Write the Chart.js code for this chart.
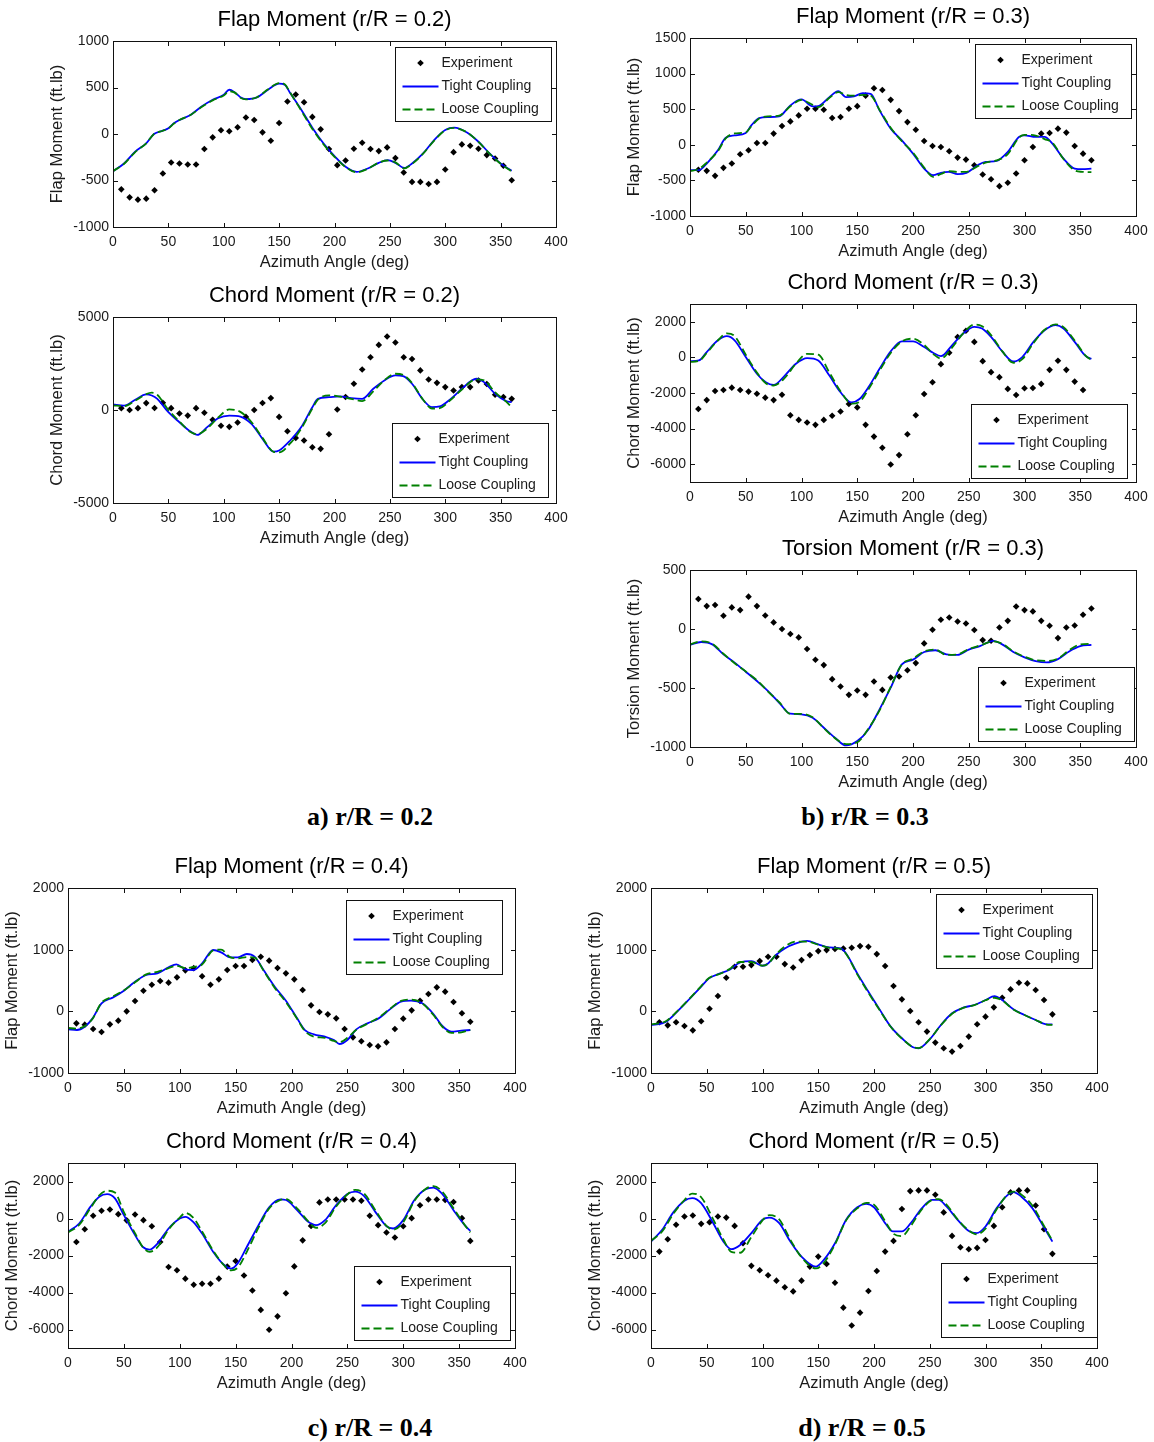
<!DOCTYPE html>
<html><head><meta charset="utf-8">
<script src="https://cdn.jsdelivr.net/npm/chart.js@4.4.1/dist/chart.umd.min.js"></script>
<style>
html,body{margin:0;padding:0;background:#fff;}
body{width:1154px;height:1442px;position:relative;overflow:hidden;}
canvas{position:absolute;}
.cap{position:absolute;width:300px;margin-left:-150px;text-align:center;font:bold 26px 'Liberation Serif','Times New Roman',serif;line-height:26px;color:#000;}
</style></head><body>
<script>
// ---------------- DATA ----------------
const seriesNames = ['Experiment', 'Tight Coupling', 'Loose Coupling'];
const xTicks = [0, 50, 100, 150, 200, 250, 300, 350, 400];
const yTicksFlap02 = [-1000, -500, 0, 500, 1000];
const yTicksChord02 = [-5000, 0, 5000];
const yTicksFlap03 = [-1000, -500, 0, 500, 1000, 1500];
const yTicksChord = [-6000, -4000, -2000, 0, 2000];
const yTicksTorsion03 = [-1000, -500, 0, 500];
const yTicksFlap45 = [-1000, 0, 1000, 2000];

const expAngles = [7.5,15,22.5,30,37.5,45,52.5,60,67.5,75,82.5,90,97.5,105,112.5,120,127.5,135,142.5,150,157.5,165,172.5,180,187.5,195,202.5,210,217.5,225,232.5,240,247.5,255,262.5,270,277.5,285,292.5,300,307.5,315,322.5,330,337.5,345,352.5,360];

// Flap r/R = 0.2
const flap02Exp = [-595,-681,-706,-695,-605,-425,-306,-317,-328,-328,-162,-36,40,29,72,177,151,18,-72,119,350,425,342,184,50,-162,-335,-285,-159,-94,-162,-184,-144,-259,-414,-515,-515,-537,-515,-382,-195,-112,-126,-159,-227,-263,-342,-497];
const flap02Ang = [0,10,20,30,37,45,50,55,60,70,80,90,100,105,110,115,120,130,140,150,155,160,170,180,190,200,210,220,230,240,248,255,263,270,280,290,300,308,320,330,340,350,360];
const flap02Tight = [-400,-317,-191,-100,0,36,61,115,151,205,295,368,422,476,447,396,375,393,476,541,530,440,260,68,-100,-238,-353,-407,-371,-310,-281,-310,-364,-317,-209,-65,43,68,14,-83,-209,-317,-396];
const flap02Loose = [-400,-320,-195,-100,0,35,60,112,150,205,290,362,415,460,445,390,372,395,480,548,535,445,250,55,-110,-245,-355,-412,-375,-308,-285,-305,-370,-322,-212,-70,40,65,15,-85,-212,-320,-405];

// Chord r/R = 0.2
const chord02Exp = [100,0,100,370,110,390,100,-190,-300,100,-150,-530,-850,-905,-670,-370,0,380,640,-370,-1140,-1500,-1640,-2000,-2090,-1300,30,700,1410,2180,2840,3500,3950,3630,2840,2740,2130,1640,1460,1230,1050,1230,1230,1590,1400,820,700,600];
const chord02Ang = [0,10,20,30,35,40,50,60,70,76,85,95,105,115,125,135,145,150,160,170,180,185,195,205,215,225,235,245,255,262,270,280,288,295,305,315,328,335,345,355,360];
const chord02Tight = [300,240,550,840,780,600,-120,-660,-1160,-1340,-920,-440,-300,-350,-750,-1550,-2240,-2180,-1640,-920,150,600,690,730,640,600,1140,1590,1860,1820,1410,550,150,190,600,1140,1680,1500,870,480,420];
const chord02Loose = [250,200,500,850,930,820,0,-620,-1180,-1300,-1000,-400,30,-100,-650,-1500,-2250,-2280,-1800,-1000,80,560,790,720,600,480,1000,1600,1950,1880,1450,550,80,100,550,1100,1650,1600,950,450,150];

// Flap r/R = 0.3
const flap03Exp = [-350,-366,-436,-324,-263,-133,-77,26,26,157,264,329,413,506,506,492,376,390,506,543,690,794,770,631,473,319,212,54,-16,-30,-91,-180,-208,-287,-418,-483,-581,-534,-403,-217,-30,157,166,227,171,-16,-124,-217];
const flap03Ang = [0,8,15,25,32,40,50,55,62,70,80,90,100,110,115,125,133,140,147,155,162,170,180,190,200,210,218,225,232,240,248,258,265,275,285,295,300,310,318,325,335,345,352,360];
const flap03Tight = [-357,-357,-263,-77,100,133,166,273,376,390,399,553,637,539,543,669,753,669,679,725,716,483,227,63,-124,-334,-427,-394,-380,-413,-394,-287,-240,-226,-100,110,133,110,110,17,-194,-334,-343,-334];
const flap03Loose = [-370,-340,-250,-90,90,160,175,260,370,400,410,540,630,560,530,660,740,700,690,700,690,490,240,50,-110,-320,-450,-410,-370,-380,-380,-300,-250,-220,-130,100,140,130,80,30,-200,-360,-380,-385];

// Chord r/R = 0.3
const chord03Exp = [-2900,-2400,-1890,-1830,-1700,-1830,-1920,-2040,-2260,-2400,-2100,-3250,-3510,-3660,-3790,-3510,-3280,-3040,-2620,-2810,-3790,-4450,-5080,-6020,-5490,-4320,-3250,-2060,-1400,-380,260,1150,1500,870,-210,-830,-1110,-1770,-2110,-1730,-1720,-1490,-700,-190,-700,-1360,-1830,null];
const chord03Ang = [0,8,15,25,33,40,50,60,68,75,85,95,105,115,125,135,145,152,160,170,180,190,200,210,218,225,235,245,255,262,270,280,290,298,308,318,328,335,345,355,360];
const chord03Tight = [-210,-170,300,960,1190,960,20,-920,-1400,-1550,-1020,-360,-40,-170,-1020,-1960,-2530,-2340,-1680,-640,340,900,900,580,260,70,680,1340,1720,1620,1150,340,-230,20,870,1530,1810,1620,870,70,-80];
const chord03Loose = [-250,-200,250,950,1350,1200,150,-850,-1450,-1580,-1150,-350,200,150,-850,-1900,-2600,-2500,-1800,-750,250,900,1050,700,200,-60,550,1350,1850,1750,1250,350,-300,-100,800,1550,1850,1700,950,80,-150];

// Torsion r/R = 0.3
const torsion03Exp = [254,194,203,112,183,160,274,194,115,56,0,-43,-71,-170,-261,-306,-425,-487,-558,-521,-558,-445,-516,-411,-402,-350,-289,-122,-6,78,98,64,47,-9,-94,-100,13,69,191,160,149,69,27,-77,13,30,121,174];
const torsion03Ang = [0,10,20,30,40,50,60,70,80,90,100,110,120,130,140,150,160,170,180,190,200,210,220,230,240,250,260,272,280,290,300,310,320,330,340,350,360];
const torsion03Tight = [-135,-110,-130,-215,-285,-362,-441,-526,-625,-718,-723,-752,-837,-922,-987,-950,-851,-681,-497,-299,-260,-195,-180,-215,-220,-175,-145,-100,-130,-195,-240,-272,-283,-255,-190,-145,-135];
const torsion03Loose = [-130,-105,-125,-210,-290,-360,-435,-530,-620,-720,-720,-748,-840,-925,-975,-960,-845,-690,-490,-300,-250,-190,-175,-220,-215,-170,-140,-105,-125,-190,-235,-265,-270,-250,-180,-130,-125];

// Flap r/R = 0.4
const flap04Exp = [-195,-216,-286,-335,-211,-151,0,168,335,432,492,465,551,665,700,568,432,519,670,735,735,832,886,822,703,616,519,346,97,-11,-49,-114,-286,-422,-486,-546,-568,-503,-286,-119,16,170,281,389,319,151,-32,-168];
const flap04Ang = [0,8,15,22,30,40,50,60,70,80,90,97,105,112,120,130,137,145,152,160,167,175,185,195,205,212,220,230,238,243,250,258,268,278,288,298,307,317,327,335,343,352,360];
const flap04Tight = [-292,-303,-249,-114,130,222,335,481,589,616,714,762,681,670,778,995,957,876,876,930,886,670,400,173,-114,-303,-373,-411,-465,-530,-465,-292,-195,-114,32,157,173,130,-43,-238,-330,-314,-303];
const flap04Loose = [-270,-280,-240,-120,140,240,340,470,600,640,700,740,700,720,760,990,1000,880,860,880,870,660,380,150,-120,-320,-410,-430,-480,-500,-430,-300,-200,-100,40,170,190,130,-60,-250,-350,-340,-300];

// Chord r/R = 0.4
const chord04Exp = [-1270,-580,145,416,490,235,-100,217,-90,-416,-1270,-2620,-2800,-3250,-3580,-3530,-3530,-3250,-2600,-2300,-3080,-3890,-4940,-6010,-5290,-4040,-2590,-1180,-400,870,1030,1030,1030,1030,960,145,-360,-760,-1030,-416,20,720,1030,1030,1000,890,20,-1210];
const chord04Ang = [0,10,20,28,35,42,50,60,67,73,80,90,100,105,112,120,130,140,146,152,160,170,180,190,195,205,215,222,230,240,250,257,265,275,285,291,300,310,320,327,335,345,355,360];
const chord04Tight = [-720,-270,630,1180,1320,1090,180,-900,-1540,-1680,-1360,-540,0,90,-180,-815,-1810,-2530,-2710,-2410,-1540,-416,600,1030,1000,450,-180,-360,-90,720,1320,1450,1210,360,-416,-540,-90,1000,1580,1670,1320,450,-360,-670];
const chord04Loose = [-750,-350,550,1250,1500,1400,350,-800,-1550,-1800,-1550,-600,50,300,50,-700,-1750,-2550,-2800,-2650,-1800,-550,550,1000,1050,550,-150,-500,-250,650,1300,1550,1350,450,-400,-600,-200,950,1600,1750,1450,550,-350,-750];

// Flap r/R = 0.5
const flap05Exp = [-178,-227,-178,-237,-308,-162,43,248,545,723,723,750,815,885,885,766,712,831,912,977,993,1010,1020,1031,1058,1047,928,734,410,194,5,-178,-329,-507,-599,-653,-561,-410,-210,-86,65,221,356,464,453,345,183,-49];
const flap05Ang = [0,10,15,25,35,45,52,62,70,80,90,100,105,112,120,130,140,150,160,170,175,185,195,205,215,225,235,240,250,260,270,280,290,300,308,315,325,335,345,355,360];
const flap05Tight = [-221,-194,-151,22,210,400,534,615,669,793,815,739,777,912,1020,1101,1144,1085,1036,1020,939,615,318,32,-248,-437,-583,-599,-453,-221,-32,59,103,183,248,183,32,-59,-140,-210,-210];
const flap05Loose = [-210,-185,-140,30,215,410,540,610,680,800,800,740,770,920,1050,1130,1130,1080,1030,1010,930,600,300,20,-250,-440,-580,-595,-450,-225,-40,55,100,180,220,175,30,-60,-140,-215,-220];

// Chord r/R = 0.5
const chord05Exp = [-1790,-1120,-340,110,160,-290,-200,110,50,-400,-1340,-2560,-2800,-3070,-3360,-3720,-3940,-3360,-2600,-2060,-2460,-3470,-4820,-5780,-5090,-3920,-2840,-1790,-1210,510,1480,1520,1520,1280,330,-940,-1550,-1660,-1590,-1160,-400,610,1410,1520,1520,700,-580,-1910];
const chord05Ang = [0,10,20,30,37,45,55,65,72,80,90,100,106,115,125,135,148,155,165,175,185,193,200,210,217,225,233,243,252,258,265,275,285,292,300,310,320,325,332,342,352,360];
const chord05Tight = [-1250,-610,330,960,1100,830,-160,-1250,-1660,-1430,-790,-70,50,-250,-1250,-2060,-2600,-2240,-1340,-70,610,790,610,-250,-700,-700,-250,560,1010,1010,650,-70,-670,-790,-430,560,1280,1430,1190,560,-430,-1250];
const chord05Loose = [-1200,-700,250,1000,1350,1150,50,-1150,-1800,-1850,-1000,-100,180,-50,-1150,-2100,-2700,-2400,-1400,-100,550,850,750,-150,-800,-950,-400,500,1000,1050,750,-50,-650,-850,-550,500,1300,1450,1300,700,-350,-1200];

const captions = ['a) r/R = 0.2', 'b) r/R = 0.3', 'c) r/R = 0.4', 'd) r/R = 0.5'];

// ---------------- LAYOUT ----------------
const panels = [
  {title:'Flap Moment (r/R = 0.2)', ylabel:'Flap Moment (ft.lb)', ymin:-1000, ymax:1000, yticks:yTicksFlap02, exp:flap02Exp, ang:flap02Ang, tight:flap02Tight, loose:flap02Loose, box:[113,41,556,227], leg:{corner:'top', right:5, gap:6}},
  {title:'Chord Moment (r/R = 0.2)', ylabel:'Chord Moment (ft.lb)', ymin:-5000, ymax:5000, yticks:yTicksChord02, exp:chord02Exp, ang:chord02Ang, tight:chord02Tight, loose:chord02Loose, box:[113,317,556,503], leg:{corner:'bottom', right:8, gap:6}},
  {title:'Flap Moment (r/R = 0.3)', ylabel:'Flap Moment (ft.lb)', ymin:-1000, ymax:1500, yticks:yTicksFlap03, exp:flap03Exp, ang:flap03Ang, tight:flap03Tight, loose:flap03Loose, box:[690,38,1136,216], leg:{corner:'top', right:5, gap:6}},
  {title:'Chord Moment (r/R = 0.3)', ylabel:'Chord Moment (ft.lb)', ymin:-7000, ymax:3000, yticks:yTicksChord, exp:chord03Exp, ang:chord03Ang, tight:chord03Tight, loose:chord03Loose, box:[690,304,1136,482], leg:{corner:'bottom', right:9, gap:4}},
  {title:'Torsion Moment (r/R = 0.3)', ylabel:'Torsion Moment (ft.lb)', ymin:-1000, ymax:500, yticks:yTicksTorsion03, exp:torsion03Exp, ang:torsion03Ang, tight:torsion03Tight, loose:torsion03Loose, box:[690,570,1136,747], leg:{corner:'bottom', right:2, gap:6}},
  {title:'Flap Moment (r/R = 0.4)', ylabel:'Flap Moment (ft.lb)', ymin:-1000, ymax:2000, yticks:yTicksFlap45, exp:flap04Exp, ang:flap04Ang, tight:flap04Tight, loose:flap04Loose, box:[68,888,515,1073], leg:{corner:'top', right:13, gap:12}},
  {title:'Chord Moment (r/R = 0.4)', ylabel:'Chord Moment (ft.lb)', ymin:-7000, ymax:3000, yticks:yTicksChord, exp:chord04Exp, ang:chord04Ang, tight:chord04Tight, loose:chord04Loose, box:[68,1163,515,1348], leg:{corner:'bottom', right:5, gap:8}},
  {title:'Flap Moment (r/R = 0.5)', ylabel:'Flap Moment (ft.lb)', ymin:-1000, ymax:2000, yticks:yTicksFlap45, exp:flap05Exp, ang:flap05Ang, tight:flap05Tight, loose:flap05Loose, box:[651,888,1097,1073], leg:{corner:'top', right:5, gap:6}},
  {title:'Chord Moment (r/R = 0.5)', ylabel:'Chord Moment (ft.lb)', ymin:-7000, ymax:3000, yticks:yTicksChord, exp:chord05Exp, ang:chord05Ang, tight:chord05Tight, loose:chord05Loose, box:[651,1163,1097,1348], leg:{corner:'bottom', right:0, gap:11}}
];
const capPos = [[370,817],[865,817],[370,1428],[862,1428]];

const FONT = "'Liberation Sans', Arial, Helvetica, sans-serif";
const TXT = '#1a1a1a';
Chart.defaults.font.family = FONT;
Chart.defaults.color = TXT;

const Y_W = 110, TOP_H = 40, X_H = 50, PAD_R = 26;

function drawDiamond(ctx, x, y, r) {
  ctx.beginPath();
  ctx.moveTo(x, y - r); ctx.lineTo(x + r, y); ctx.lineTo(x, y + r); ctx.lineTo(x - r, y); ctx.closePath();
  ctx.fill();
}

const framePlugin = {
  id: 'matlabFrame',
  afterDatasetsDraw(chart) {
    const {ctx, chartArea: a, scales: {x, y}} = chart;
    ctx.save();
    ctx.strokeStyle = '#111';
    ctx.lineWidth = 1;
    const L = Math.round(a.left) + 0.5, R = Math.round(a.right) + 0.5, T = Math.round(a.top) + 0.5, B = Math.round(a.bottom) + 0.5;
    ctx.strokeRect(L, T, R - L, B - T);
    const tl = 4.5;
    ctx.beginPath();
    x.ticks.forEach(t => {
      const p = Math.round(x.getPixelForValue(t.value)) + 0.5;
      ctx.moveTo(p, B); ctx.lineTo(p, B - tl);
      ctx.moveTo(p, T); ctx.lineTo(p, T + tl);
    });
    y.ticks.forEach(t => {
      const p = Math.round(y.getPixelForValue(t.value)) + 0.5;
      ctx.moveTo(L, p); ctx.lineTo(L + tl, p);
      ctx.moveTo(R, p); ctx.lineTo(R - tl, p);
    });
    ctx.stroke();
    ctx.restore();
  }
};

const legendPlugin = {
  id: 'innerLegend',
  afterDraw(chart, args, o) {
    const {ctx, chartArea: a} = chart;
    const w = 156, h = 74;
    const x0 = Math.round(a.right - o.right - w) + 0.5;
    const y0 = Math.round(o.corner === 'top' ? a.top + o.gap : a.bottom - o.gap - h) + 0.5;
    ctx.save();
    ctx.fillStyle = '#fff';
    ctx.fillRect(x0, y0, w, h);
    ctx.strokeStyle = '#111';
    ctx.lineWidth = 1;
    ctx.strokeRect(x0, y0, w, h);
    const rows = [15.5, 39, 62];
    ctx.font = '14px ' + FONT;
    ctx.textBaseline = 'middle';
    ctx.textAlign = 'left';
    chart.data.datasets.forEach((ds, i) => {
      const cy = y0 + rows[i];
      if (ds.showLine) {
        ctx.save();
        ctx.strokeStyle = ds.borderColor;
        ctx.lineWidth = ds.borderWidth;
        ctx.setLineDash(ds.borderDash || []);
        ctx.beginPath(); ctx.moveTo(x0 + 7, cy); ctx.lineTo(x0 + 43, cy); ctx.stroke();
        ctx.restore();
      } else {
        ctx.fillStyle = '#000';
        drawDiamond(ctx, x0 + 25, cy, 3.3);
      }
      ctx.fillStyle = TXT;
      ctx.fillText(ds.label, x0 + 46, cy);
    });
    ctx.restore();
  }
};

function pts(xs, ys) {
  const out = [];
  xs.forEach((v, i) => { if (ys[i] !== null && ys[i] !== undefined) out.push({x: v, y: ys[i]}); });
  return out;
}

panels.forEach((p, idx) => {
  const [L, T, R, B] = p.box;
  const cv = document.createElement('canvas');
  const W = (R - L) + Y_W + PAD_R, H = (B - T) + TOP_H + X_H;
  cv.width = W; cv.height = H;
  cv.style.left = (L - Y_W) + 'px';
  cv.style.top = (T - TOP_H) + 'px';
  cv.style.width = W + 'px'; cv.style.height = H + 'px';
  document.body.appendChild(cv);

  new Chart(cv, {
    type: 'scatter',
    data: {
      datasets: [
        {label: seriesNames[0], order: 3, data: pts(expAngles, p.exp), showLine: false, pointStyle: 'rectRot', pointRadius: 3.3, backgroundColor: '#000', borderColor: '#000', borderWidth: 0},
        {label: seriesNames[1], order: 2, data: pts(p.ang, p.tight), showLine: true, pointRadius: 0, borderColor: '#0000ff', backgroundColor: '#0000ff', borderWidth: 1.8, cubicInterpolationMode: 'monotone', fill: false},
        {label: seriesNames[2], order: 1, data: pts(p.ang, p.loose), showLine: true, pointRadius: 0, borderColor: '#008000', backgroundColor: '#008000', borderWidth: 1.8, borderDash: [8, 4], cubicInterpolationMode: 'monotone', fill: false}
      ]
    },
    options: {
      responsive: false,
      animation: false,
      devicePixelRatio: 1,
      events: [],
      layout: {padding: {left: 0, top: 0, right: PAD_R, bottom: 0}},
      plugins: {
        legend: {display: false},
        tooltip: {enabled: false},
        title: {display: true, text: p.title, fullSize: false, color: '#000', font: {size: 22, weight: 'normal', lineHeight: 1}, padding: {top: 8, bottom: 10}},
        innerLegend: p.leg
      },
      scales: {
        x: {
          type: 'linear', min: 0, max: 400,
          afterBuildTicks: s => { s.ticks = xTicks.map(v => ({value: v})); },
          afterFit: s => { s.height = X_H; },
          ticks: {callback: v => String(v), font: {size: 14}, color: TXT, padding: 6.6, maxRotation: 0, minRotation: 0, autoSkip: false},
          grid: {display: false, drawTicks: false},
          border: {display: false},
          title: {display: true, text: 'Azimuth Angle (deg)', color: TXT, font: {size: 16.5}, padding: {top: 0, bottom: 5.1}}
        },
        y: {
          type: 'linear', min: p.ymin, max: p.ymax,
          afterBuildTicks: s => { s.ticks = p.yticks.map(v => ({value: v})); },
          afterFit: s => { s.width = Y_W; },
          ticks: {callback: v => String(v), font: {size: 14}, color: TXT, padding: 4, autoSkip: false},
          grid: {display: false, drawTicks: false},
          border: {display: false},
          title: {display: true, text: p.ylabel, color: TXT, font: {size: 16.5}, padding: {top: 44.1, bottom: 0}}
        }
      }
    },
    plugins: [framePlugin, legendPlugin]
  });
});

captions.forEach((c, i) => {
  const d = document.createElement('div');
  d.className = 'cap';
  d.textContent = c;
  d.style.left = capPos[i][0] + 'px';
  d.style.top = (capPos[i][1] - 13) + 'px';
  document.body.appendChild(d);
});
</script>
</body></html>
